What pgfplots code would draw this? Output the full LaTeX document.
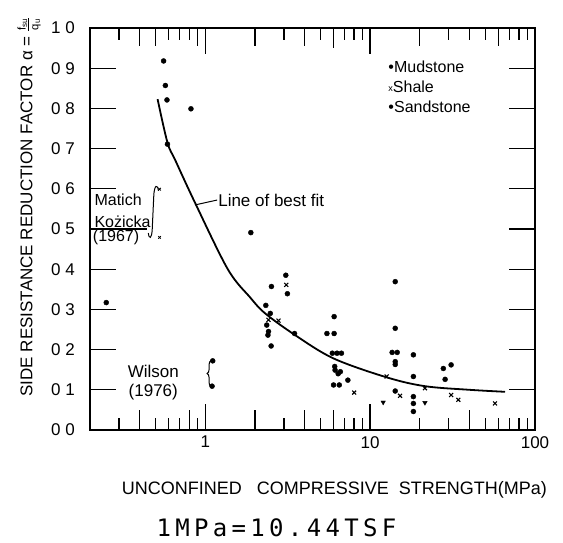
\documentclass[border=0pt]{standalone}
\usepackage{fontspec}
\setmainfont{Liberation Sans}
\newfontfamily\monofont[LetterSpace=18]{DejaVu Sans Mono}
\usepackage{pgfplots}
\pgfplotsset{compat=1.18}
\usetikzlibrary{decorations.pathreplacing}

\begin{document}
\begin{tikzpicture}
\path (0pt,0pt) rectangle (563pt,543pt);
\begin{axis}[
  at={(90pt,113pt)}, anchor=south west,
  scale only axis, width=445pt, height=402pt,
  xmode=log, xmin=0.2, xmax=100, ymin=0, ymax=1,
  clip mode=individual,
  axis line style={line width=1.3pt},
  tick align=inside,
  tick style={black, line width=1.3pt},
  major tick length=26pt, minor tick length=12pt,
  xtick={1,10,100}, xticklabels={1,10,100},
  minor xtick={0.3,0.4,0.5,0.6,0.7,0.8,0.9,2,3,4,5,6,7,8,9,20,30,40,50,60,70,80,90},
  ytick={0.1,0.2,0.3,0.4,0.5,0.6,0.7,0.8,0.9},
  yticklabels={0 1,0 2,0 3,0 4,0 5,0 6,0 7,0 8,0 9},
  extra y ticks={0,1}, extra y tick labels={0 0,1 0},
  extra y tick style={tick style={draw=none}},
  tick label style={font=\fontsize{17}{17}\selectfont},
  xticklabel style={inner sep=0pt, yshift=-6pt},
  yticklabel style={inner sep=0pt, xshift=-15pt},
  tk/.style={line width=1.3pt, black, forget plot},
]
% extra hand-ruled tick lines of varying length along the top and bottom
\addplot[tk] coordinates {(0.4,0) (0.4,0.05)};
\addplot[tk] coordinates {(0.8,0) (0.8,0.05)};
\addplot[tk] coordinates {(2,0) (2,0.05)};
\addplot[tk] coordinates {(4,0) (4,0.05)};
\addplot[tk] coordinates {(6,0) (6,0.05)};
\addplot[tk] coordinates {(40,0) (40,0.05)};
\addplot[tk] coordinates {(0.4,1) (0.4,0.955)};
\addplot[tk] coordinates {(0.5,1) (0.5,0.955)};
\addplot[tk] coordinates {(0.9,1) (0.9,0.955)};
\addplot[tk] coordinates {(2,1) (2,0.955)};
\addplot[tk] coordinates {(4,1) (4,0.955)};
\addplot[tk] coordinates {(6,1) (6,0.95)};
\addplot[tk] coordinates {(20,1) (20,0.955)};
\addplot[tk] coordinates {(60,1) (60,0.955)};
% best-fit curve
\addplot[line width=1.8pt, smooth, tension=0.55] coordinates {
  (0.514,0.823) (0.59,0.715) (0.66,0.67) (0.87,0.564) (1.37,0.400)
  (1.87,0.330) (2.31,0.290) (3.51,0.236) (6.0,0.178) (12.6,0.131)
  (21.5,0.109) (40,0.100) (65.8,0.095)};
% mudstone and sandstone
\addplot[only marks, mark=*, mark size=2.5pt] coordinates {
  (0.559,0.918) (0.573,0.857) (0.586,0.821) (0.819,0.799) (0.59,0.711)
  (0.251,0.317) (1.89,0.491)
  (3.08,0.385) (2.52,0.357) (3.15,0.339) (2.33,0.310) (2.48,0.290)
  (2.36,0.261) (2.42,0.245) (2.40,0.236) (2.51,0.209) (3.48,0.240)
  (5.47,0.240) (6.05,0.240) (6.05,0.282)
  (5.9,0.191) (6.3,0.191) (6.7,0.191)
  (6.1,0.158) (6.13,0.149) (6.6,0.145) (6.4,0.140)
  (6.0,0.112) (6.5,0.112) (7.33,0.124)
  (14.2,0.369) (14.2,0.253) (13.6,0.193) (14.6,0.193) (14.2,0.170) (14.2,0.163)
  (18.3,0.187) (18.3,0.133) (14.2,0.097) (18.3,0.083) (18.3,0.066) (18.3,0.046)
  (27.8,0.153) (31.0,0.162) (28.5,0.126)
  (1.11,0.172) (1.10,0.109)};
% shale
\addplot[only marks, mark=x, mark size=2.8pt, line width=1.1pt] coordinates {
  (3.10,0.361) (2.42,0.274) (2.78,0.272) (8.0,0.093) (12.6,0.133)
  (15.2,0.085) (21.5,0.104) (31,0.087) (34.3,0.075) (57.2,0.066)};
\addplot[only marks, mark=x, mark size=1.8pt, line width=0.8pt] coordinates {
  (0.528,0.599) (0.528,0.479)};
\addplot[only marks, mark=triangle*, mark size=2.6pt, mark options={rotate=180}] coordinates {
  (12.0,0.069) (21.5,0.068)};

% key
\node[anchor=west, font=\fontsize{16}{16}\selectfont] at (axis cs:12.3,0.903) {•Mudstone};
\node[anchor=west, font=\fontsize{16}{16}\selectfont] at (axis cs:12.3,0.853) {\raisebox{1pt}{\fontsize{9}{9}\selectfont x}Shale};
\node[anchor=west, font=\fontsize{16}{16}\selectfont] at (axis cs:12.3,0.803) {•Sandstone};

% annotations
\draw[line width=1pt] (axis cs:0.87,0.560) -- (axis cs:1.18,0.572);
\node[anchor=west, inner sep=1pt, font=\fontsize{17}{17}\selectfont] at (axis cs:1.18,0.572) {Line of best fit};

\node[anchor=west, inner sep=1pt, fill=white, font=\fontsize{16}{16}\selectfont] at (axis cs:0.2096,0.572) {Matich};
\node[anchor=west, inner sep=1pt, font=\fontsize{16}{16}\selectfont] at (axis cs:0.2096,0.518) {Kożicka};
\draw[line width=1.3pt] (axis cs:0.2,0.5) -- (axis cs:0.445,0.5);
\node[anchor=west, inner sep=1pt, font=\fontsize{16}{16}\selectfont] at (axis cs:0.205,0.478) {(1967)};
\draw[line width=1pt] (axis cs:0.52,0.595) .. controls (axis cs:0.515,0.612) and (axis cs:0.49,0.612) .. (axis cs:0.487,0.58)
  -- (axis cs:0.477,0.50) .. controls (axis cs:0.474,0.474) and (axis cs:0.455,0.474) .. (axis cs:0.452,0.49);

\node[align=center, inner sep=0pt, font=\fontsize{17}{19}\selectfont] at (axis cs:0.484,0.118) {Wilson\\(1976)};
\draw[line width=1pt, decorate, decoration={brace, amplitude=4pt}] (axis cs:1.085,0.108) -- (axis cs:1.085,0.173);

% axis titles
\node[rotate=90, font=\fontsize{17}{17}\selectfont] at (axis description cs:-0.137,0.555)
  {SIDE RESISTANCE REDUCTION FACTOR α = {\fontsize{16}{16}\selectfont$\frac{\mathrm{f}_{\mathrm{su}}}{\mathrm{q}_{\mathrm{u}}}$}};
\node[font=\fontsize{18}{18}\selectfont] at (axis description cs:0.549,-0.149)
  {UNCONFINED\ \ \ COMPRESSIVE\ \ STRENGTH(MPa)};
\node[anchor=base, inner sep=0pt, font=\fontsize{24}{26}\monofont] at (axis description cs:0.419,-0.264) {1MPa=10.44TSF};
\end{axis}
\end{tikzpicture}
\end{document}
